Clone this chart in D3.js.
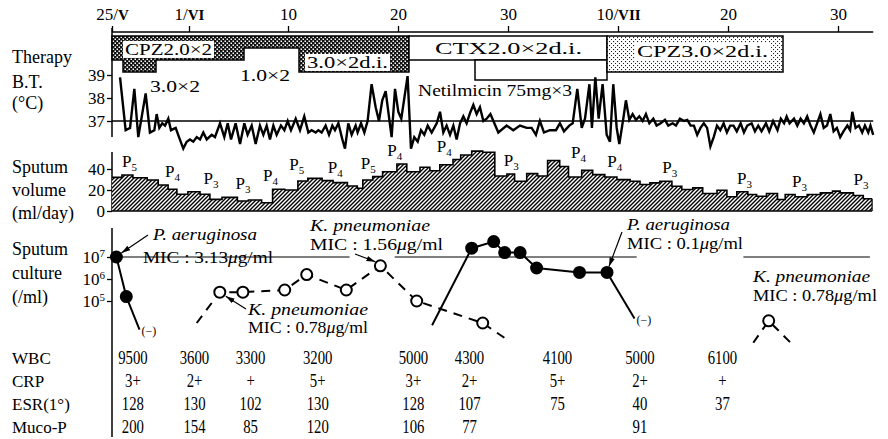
<!DOCTYPE html>
<html>
<head>
<meta charset="utf-8">
<script src="https://cdn.jsdelivr.net/npm/d3@7"></script>
<style>
  body { margin: 0; background: #fff; }
  svg { display: block; font-family: 'Liberation Serif', 'DejaVu Serif', serif; }
</style>
</head>
<body>
<div id="chart"></div>
<script>
// ---- data (day 0 = 25 May) ----
const dayTicks = [0, 7, 16, 26, 36, 46, 56, 66];
const dayTickLabels = [['25/', 'V'], ['1/', 'VI'], ['10', ''], ['20', ''], ['30', ''], ['10/', 'VII'], ['20', ''], ['30', '']];
const lastDay = 69.2;

// [start day, dose g]; last entry closes the regimen
const cpzFirst = [[0, 2], [1, 3], [4, 2], [12, 1], [17, 3], [27, 3]];
const ctxCourse = [27, 45, 2];
const netilmicin = [33, 45];
const cpzSecond = [45, 61, 3];

// body temperature [day, °C]
const bodyTemp = [
  [0.73, 38.9], [1.24, 36.6], [1.64, 36.7], [2.03, 38.4], [2.39, 36.3], [3.06, 38.2], [3.45, 36.5], [3.85, 36.6],
  [4.06, 37.3], [4.3, 36.7], [4.57, 36.9], [4.82, 36.8], [5.12, 37.1], [5.36, 36.6], [5.79, 36.7], [6.09, 36.3],
  [6.48, 35.8], [6.79, 36.1], [7.09, 36.2], [7.39, 36.1], [7.7, 36.3], [8.0, 36.2], [8.3, 36.5], [8.61, 36.2],
  [9.06, 36.4], [9.36, 36.3], [9.82, 36.9], [10.21, 36.3], [10.52, 36.9], [10.82, 36.2], [11.24, 36.9], [11.64, 36.0],
  [12.03, 36.9], [12.33, 36.4], [12.7, 36.8], [13.06, 36.0], [13.45, 36.8], [13.76, 36.4], [14.06, 36.8], [14.36, 36.2],
  [14.67, 36.8], [14.97, 36.4], [15.36, 36.8], [15.67, 36.6], [15.97, 37.0], [16.27, 36.6], [16.7, 37.1], [17.09, 36.6],
  [17.48, 37.2], [17.85, 36.5], [18.15, 36.6], [18.52, 36.5], [18.76, 36.6], [19.06, 36.5], [19.42, 36.8], [19.73, 36.4],
  [20.03, 36.8], [20.27, 36.6], [20.58, 36.9], [20.94, 36.2], [21.18, 35.8], [21.48, 36.9], [21.79, 36.4], [22.15, 36.8],
  [22.33, 36.5], [22.64, 36.9], [22.94, 36.5], [23.24, 37.0], [23.6, 38.6], [23.97, 37.6], [24.27, 37.0], [24.57, 37.9],
  [24.88, 38.3], [25.12, 37.4], [25.42, 36.3], [25.73, 38.4], [26.03, 37.4], [26.3, 37.1], [26.87, 38.95], [27.18, 35.8],
  [27.48, 36.3], [27.79, 36.1], [28.09, 36.6], [28.39, 36.4], [28.7, 36.8], [29.06, 36.5], [29.52, 36.9], [29.82, 37.4],
  [30.12, 36.5], [30.42, 36.8], [30.73, 36.4], [31.03, 36.8], [31.33, 36.2], [31.64, 36.9], [31.94, 37.2], [32.24, 36.9],
  [32.55, 37.35], [32.85, 37.7], [33.15, 37.3], [33.45, 37.6], [33.76, 37.0], [34.06, 37.1], [34.4, 37.3], [35.12, 36.5],
  [35.88, 36.8], [36.48, 36.6], [37.09, 36.8], [37.7, 36.7], [38.15, 36.7], [38.54, 36.4], [38.9, 37.0], [39.27, 36.5],
  [39.8, 36.6], [40.36, 36.6], [40.72, 36.9], [41.09, 36.55], [41.57, 36.8], [41.88, 36.9], [42.3, 38.4], [42.7, 36.7],
  [43.0, 37.1], [43.4, 38.6], [43.63, 36.7], [43.94, 38.9], [44.24, 37.1], [44.6, 38.6], [44.97, 36.4], [45.27, 36.1],
  [45.57, 38.6], [45.88, 36.7], [46.12, 36.0], [46.48, 37.1], [46.72, 37.9], [47.03, 37.05], [47.33, 37.3], [47.63, 37.05],
  [47.94, 37.2], [48.24, 37.0], [48.54, 37.3], [48.85, 36.9], [49.21, 37.1], [49.51, 36.8], [49.88, 36.9], [50.27, 37.05],
  [50.57, 36.8], [50.97, 36.9], [51.27, 36.8], [51.63, 37.1], [52.0, 37.0], [52.3, 37.05], [52.6, 36.8], [52.9, 36.8],
  [53.2, 36.4], [53.5, 36.7], [53.8, 36.9], [54.1, 36.7], [54.4, 35.9], [54.7, 36.3], [55.0, 36.8], [55.3, 36.6],
  [55.6, 36.9], [55.9, 36.5], [56.2, 36.8], [56.5, 36.8], [56.8, 36.55], [57.15, 36.9], [57.45, 36.5], [57.75, 36.8],
  [58.15, 36.9], [58.45, 36.55], [58.75, 36.8], [59.05, 36.55], [59.45, 36.9], [59.75, 36.55], [60.1, 37.0], [60.5, 36.6],
  [60.8, 37.1], [61.1, 36.9], [61.33, 37.2], [61.6, 36.9], [62.0, 37.1], [62.3, 36.8], [62.6, 37.1], [62.9, 36.9],
  [63.2, 37.2], [63.5, 36.8], [63.8, 36.5], [64.1, 36.9], [64.4, 37.3], [64.7, 36.7], [65.0, 36.8], [65.3, 37.3],
  [65.6, 36.55], [65.9, 36.7], [66.2, 36.3], [66.5, 36.55], [66.85, 36.8], [67.1, 36.6], [67.3, 37.4], [67.6, 36.7],
  [67.9, 36.8], [68.2, 36.5], [68.45, 36.8], [68.75, 36.5], [68.95, 36.8], [69.2, 36.4]
];

// sputum volume steps [start day, ml/day]
const sputumSteps = [
  [0, 32], [0.9, 34.3], [1.9, 31.7], [3.2, 29.5], [4.2, 24.8], [5.1, 20.7], [5.9, 15.9], [6.9, 18.4], [8, 15.9],
  [8.9, 11.1], [10, 13], [11.4, 9.5], [12.4, 10.5], [13.6, 7.9], [14.6, 20.7], [15.7, 20], [16.9, 28.6], [17.8, 31.1],
  [19.1, 28.9], [20.1, 27], [21.4, 23.8], [22.3, 21.6], [22.8, 29.5], [23.7, 32.7], [24.6, 37.4], [25.9, 44.8],
  [26.8, 37.4], [28, 41.6], [28.9, 38.4], [29.8, 44], [31, 49], [31.7, 53.3], [32.7, 57], [33.7, 56], [34.8, 33.3],
  [35.9, 35.3], [36.6, 28.3], [37.7, 35.6], [38.7, 33.3], [39.6, 48.1], [40.7, 42.4], [41.5, 32.4], [42.7, 38.7],
  [43.7, 34.6], [44.8, 32.4], [45.9, 29.9], [47.1, 28.3], [48, 25.2], [48.9, 26.8], [49.8, 28.3], [50.9, 23.6],
  [51.8, 20.5], [52.8, 22], [53.7, 16.7], [55, 19.8], [55.9, 13.6], [56.8, 18.3], [57.8, 15.7], [58.6, 14.1],
  [59.5, 16.7], [60.5, 11], [61.2, 15.7], [62.1, 13.6], [63.2, 15.7], [64.4, 17.3], [65.5, 18.9], [66.2, 17.3],
  [67.4, 14.8], [68.3, 11.7], [69.1, 11.7]
];
// purulence grade [day, P grade]
const purulence = [[1.6, 5], [5.5, 4], [9, 3], [11.9, 3], [14.4, 4], [16.8, 5], [20.3, 4], [23.3, 5], [25.7, 4],
  [30.2, 4], [36.3, 3], [42.4, 4], [45.7, 4], [50.7, 3], [57.5, 3], [62.5, 3], [68.1, 3]];

// sputum culture [day, log10 cfu/ml, measured]
const paFirst = [[0.4, 7.0, 1], [1.3, 5.2, 1], [2.5, 3.7, 0]];
const klebFirst = [[7.7, 4.0, 0], [9.8, 5.4, 1], [11.9, 5.4, 1], [15.7, 5.5, 1], [17.7, 6.2, 1], [21.3, 5.5, 1],
  [24.4, 6.6, 1], [27.7, 5.0, 1], [33.7, 4.0, 1], [35.9, 3.25, 0]];
const paSecond = [[29.1, 3.9, 0], [32.7, 7.4, 1], [34.7, 7.7, 1], [35.7, 7.2, 1], [37.1, 7.2, 1], [38.6, 6.5, 1],
  [42.5, 6.3, 1], [45.0, 6.3, 1], [47.5, 4.2, 0]];
const klebSecond = [[58.3, 3.1, 0], [59.7, 4.1, 1], [61.9, 3.0, 0]];
const refSegments = [[0.4, 21.6], [25.7, 47.7], [57.4, 68.9]];

// laboratory table
const labDays = [1.9, 7.5, 12.6, 18.7, 27.4, 32.5, 40.5, 48, 55.5];
const rowNames = ['WBC', 'CRP', 'ESR(1°)', 'Muco-P'];
const wbc = ['9500', '3600', '3300', '3200', '5000', '4300', '4100', '5000', '6100'];
const crp = ['3+', '2+', '+', '5+', '3+', '2+', '5+', '2+', '+'];
const esr = ['128', '130', '102', '130', '128', '107', '75', '40', '37'];
const mucoP = ['200', '154', '85', '120', '106', '77', '', '91', ''];

// ---- scales ----
const x = d3.scaleLinear().domain([0, 66]).range([112, 838]);
const yDose = d3.scaleLinear().domain([0, 3]).range([36, 72]);
const yBT = d3.scaleLinear().domain([37, 39]).range([121, 75]);
const yVol = d3.scaleLinear().domain([0, 40]).range([211, 169]);
const yCul = d3.scaleLinear().domain([5, 7]).range([301, 257]);
const yRow = d3.scalePoint().domain(rowNames).range([358, 427]);

const svg = d3.select('#chart').append('svg')
  .attr('width', 888).attr('height', 439)
  .style('background', '#fff');

const defs = svg.append('defs');
const dense = defs.append('pattern').attr('id', 'dense')
  .attr('patternUnits', 'userSpaceOnUse').attr('width', 4).attr('height', 4);
dense.append('rect').attr('width', 4).attr('height', 4).attr('fill', '#111');
dense.append('rect').attr('x', 0.5).attr('y', 0.5).attr('width', 1.5).attr('height', 1.5).attr('fill', '#fff');
dense.append('rect').attr('x', 2.5).attr('y', 2.5).attr('width', 1.5).attr('height', 1.5).attr('fill', '#fff');

const dots = defs.append('pattern').attr('id', 'dots')
  .attr('patternUnits', 'userSpaceOnUse').attr('width', 4).attr('height', 4);
dots.append('rect').attr('width', 4).attr('height', 4).attr('fill', '#fff');
dots.append('rect').attr('x', 1).attr('y', 1).attr('width', 1.1).attr('height', 1.1).attr('fill', '#222');
dots.append('rect').attr('x', 3).attr('y', 3).attr('width', 1.1).attr('height', 1.1).attr('fill', '#222');

const hatch = defs.append('pattern').attr('id', 'hatch')
  .attr('patternUnits', 'userSpaceOnUse').attr('width', 4).attr('height', 4);
hatch.append('rect').attr('width', 4).attr('height', 4).attr('fill', '#fff');
hatch.append('path').attr('d', 'M-1,1 l2,-2 M0,4 l4,-4 M3,5 l2,-2')
  .attr('stroke', '#000').attr('stroke-width', 1.4);

defs.append('marker').attr('id', 'arrow')
  .attr('viewBox', '0 0 10 6').attr('refX', 10).attr('refY', 3)
  .attr('markerWidth', 9).attr('markerHeight', 6).attr('markerUnits', 'userSpaceOnUse')
  .attr('orient', 'auto')
  .append('path').attr('d', 'M0,0 L10,3 L0,6 z').attr('fill', '#000');

// text helper
function txt(g, s, px, py, o = {}) {
  const t = g.append('text')
    .attr('x', px).attr('y', py).attr('dy', '0.35em')
    .attr('font-size', o.size || 17)
    .attr('text-anchor', o.anchor || 'start')
    .attr('fill', '#000');
  if (o.italic) t.attr('font-style', 'italic');
  if (o.mic) {
    t.append('tspan').text('MIC : ' + o.mic);
    t.append('tspan').attr('font-style', 'italic').text('μ');
    t.append('tspan').text('g/ml');
  } else {
    t.text(s);
  }
  if (o.len) t.attr('textLength', o.len).attr('lengthAdjust', 'spacingAndGlyphs');
  if (o.bg) {
    const b = t.node().getBBox();
    g.insert('rect', () => t.node())
      .attr('x', b.x - 2).attr('y', b.y + 1).attr('width', b.width + 4).attr('height', b.height - 2)
      .attr('fill', '#fff');
  }
  return t;
}

const line = (px1, py1, px2, py2, w = 1.3) => svg.append('line')
  .attr('x1', px1).attr('y1', py1).attr('x2', px2).attr('y2', py2)
  .attr('stroke', '#000').attr('stroke-width', w);

const axisText = g => g.selectAll('.tick text')
  .attr('font-size', 17).attr('font-family', "'Liberation Serif', serif").attr('fill', '#000');

// ---- top date axis ----
const topAxis = svg.append('g').attr('transform', 'translate(0,32)')
  .call(d3.axisTop(x).tickValues(dayTicks).tickSize(6).tickFormat(''))
  .call(g => g.select('.domain').remove())
  .call(g => g.selectAll('.tick line').attr('stroke-width', 1.3));
topAxis.selectAll('.tick').each(function (d, i) {
  const t = d3.select(this).append('text')
    .attr('y', -12).attr('fill', '#000').attr('font-size', 17)
    .attr('text-anchor', 'middle').attr('font-family', "'Liberation Serif', serif");
  t.append('tspan').text(dayTickLabels[i][0]);
  if (dayTickLabels[i][1]) t.append('tspan').attr('font-weight', 'bold').attr('font-size', 15).text(dayTickLabels[i][1]);
});
line(x(0), 32, x(lastDay), 32, 1.5);

// left axis lines
line(x(0), 28, x(0), 137, 1.5);
line(x(0), 152, x(0), yVol(0), 1.5);
line(x(0), 228, x(0), 437, 1.5);

// ---- therapy ----
const therapy = svg.append('g');
therapy.append('path')
  .attr('d', d3.area().curve(d3.curveStepAfter)
    .x(d => x(d[0])).y0(yDose(0)).y1(d => yDose(d[1]))(cpzFirst))
  .attr('fill', 'url(#dense)').attr('stroke', '#000').attr('stroke-width', 1.5);
therapy.append('rect')
  .attr('x', x(ctxCourse[0])).attr('y', yDose(0))
  .attr('width', x(ctxCourse[1]) - x(ctxCourse[0])).attr('height', yDose(ctxCourse[2]) - yDose(0))
  .attr('fill', '#fff').attr('stroke', '#000').attr('stroke-width', 1.5);
therapy.append('rect')
  .attr('x', x(netilmicin[0])).attr('y', yDose(ctxCourse[2]))
  .attr('width', x(netilmicin[1]) - x(netilmicin[0])).attr('height', 20)
  .attr('fill', '#fff').attr('stroke', '#000').attr('stroke-width', 1.5);
therapy.append('rect')
  .attr('x', x(cpzSecond[0])).attr('y', yDose(0))
  .attr('width', x(cpzSecond[1]) - x(cpzSecond[0])).attr('height', yDose(cpzSecond[2]) - yDose(0))
  .attr('fill', 'url(#dots)').attr('stroke', '#000').attr('stroke-width', 1.5);

txt(therapy, 'CPZ2.0×2', 125, 49, { len: 87, bg: true });
txt(therapy, '3.0×2d.i.', 307, 62, { len: 81, bg: true });
txt(therapy, '3.0×2', 150, 86, { len: 50 });
txt(therapy, '1.0×2', 240, 75, { len: 50 });
txt(therapy, 'CTX2.0×2d.i.', 435, 48, { len: 147 });
txt(therapy, 'CPZ3.0×2d.i.', 637, 51, { len: 131, bg: true });
txt(therapy, 'Netilmicin 75mg×3', 418, 90, { len: 154 });

// ---- body temperature ----
const bt = svg.append('g');
bt.append('g').attr('transform', `translate(${x(0)},0)`)
  .call(d3.axisLeft(yBT).tickValues([37, 38, 39]).tickFormat(d3.format('d')).tickSize(5).tickPadding(2))
  .call(g => g.select('.domain').remove())
  .call(g => g.selectAll('.tick line').attr('stroke-width', 1.3))
  .call(axisText);
line(x(0), yBT(37), x(lastDay), yBT(37), 1.4);
bt.append('path')
  .datum(bodyTemp)
  .attr('d', d3.line().x(d => x(d[0])).y(d => yBT(d[1])))
  .attr('fill', 'none').attr('stroke', '#000').attr('stroke-width', 2.4).attr('stroke-linejoin', 'miter');

// ---- sputum volume ----
const vol = svg.append('g');
vol.append('g').attr('transform', `translate(${x(0)},0)`)
  .call(d3.axisLeft(yVol).tickValues([0, 20, 40]).tickFormat(d3.format('d')).tickSize(5).tickPadding(2))
  .call(g => g.select('.domain').remove())
  .call(g => g.selectAll('.tick line').attr('stroke-width', 1.3))
  .call(axisText);
vol.append('path')
  .attr('d', d3.area().curve(d3.curveStepAfter)
    .x(d => x(d[0])).y0(yVol(0)).y1(d => yVol(d[1]))(sputumSteps))
  .attr('fill', 'url(#hatch)').attr('stroke', 'none');
vol.append('path')
  .attr('d', d3.line().curve(d3.curveStepAfter).x(d => x(d[0])).y(d => yVol(d[1]))(sputumSteps))
  .attr('fill', 'none').attr('stroke', '#000').attr('stroke-width', 1.6);
line(x(0), yVol(0), x(69.1), yVol(0), 1.5);
line(x(69.1), yVol(11.7), x(69.1), yVol(0), 1.2);

purulence.forEach(([d, p]) => {
  const near = sputumSteps.filter((s, i) => {
    const end = i < sputumSteps.length - 1 ? sputumSteps[i + 1][0] : s[0];
    return end > d - 1.2 && s[0] < d + 1.2;
  });
  const top = d3.max(near, s => s[1]);
  const t = vol.append('text').attr('x', x(d)).attr('y', yVol(top) - 8)
    .attr('text-anchor', 'middle').attr('font-size', 17).attr('fill', '#000');
  t.append('tspan').text('P');
  t.append('tspan').attr('font-size', 11).attr('dy', 4).text(p);
});

// ---- sputum culture ----
const cul = svg.append('g');
const culAxis = cul.append('g').attr('transform', `translate(${x(0)},0)`)
  .call(d3.axisLeft(yCul).tickValues([5, 6, 7]).tickSize(5).tickFormat(''))
  .call(g => g.select('.domain').remove())
  .call(g => g.selectAll('.tick line').attr('stroke-width', 1.3));
culAxis.selectAll('.tick').append('text')
  .attr('x', -7).attr('dy', '0.35em').attr('text-anchor', 'end')
  .attr('fill', '#000').attr('font-size', 17).attr('font-family', "'Liberation Serif', serif")
  .call(t => t.append('tspan').text('10'))
  .call(t => t.append('tspan').attr('font-size', 11).attr('dy', -6).text(d => d));

refSegments.forEach(([a, b]) => line(x(a), yCul(7), x(b), yCul(7), 1.2));

const culLine = d3.line().x(d => x(d[0])).y(d => yCul(d[1]));
function series(data, filled) {
  const g = cul.append('g');
  g.append('path').datum(data).attr('d', culLine)
    .attr('fill', 'none').attr('stroke', '#000').attr('stroke-width', 2)
    .attr('stroke-dasharray', filled ? null : '9,7');
  g.selectAll('circle').data(data.filter(d => d[2])).join('circle')
    .attr('cx', d => x(d[0])).attr('cy', d => yCul(d[1])).attr('r', 5.5)
    .attr('fill', filled ? '#000' : '#fff').attr('stroke', '#000').attr('stroke-width', 2);
}
series(klebFirst, false);
series(klebSecond, false);
series(paFirst, true);
series(paSecond, true);

[paFirst, paSecond].forEach(s => {
  const e = s[s.length - 1];
  txt(cul, '(−)', x(e[0]) + 2, yCul(e[1]) + 1, { size: 12 });
});

// annotations
const arrow = (x1, y1, x2, y2) => cul.append('line')
  .attr('x1', x1).attr('y1', y1).attr('x2', x2).attr('y2', y2)
  .attr('stroke', '#000').attr('stroke-width', 1.2).attr('marker-end', 'url(#arrow)');

txt(cul, 'P. aeruginosa', 153, 234, { italic: true, len: 104, size: 16 });
txt(cul, '', 143, yCul(7), { mic: '3.13', len: 130, bg: true, size: 16 });
arrow(148, 235, x(paFirst[0][0]) + 5, yCul(7) - 4);

txt(cul, 'K. pneumoniae', 310, 225, { italic: true, len: 120, size: 16 });
txt(cul, '', 310, 244, { mic: '1.56', len: 133, size: 16 });
arrow(355, 254, x(24.4) - 5, yCul(6.6) - 4);

txt(cul, 'K. pneumoniae', 248, 309, { italic: true, len: 120, bg: true, size: 16 });
txt(cul, '', 248, 327, { mic: '0.78', len: 120, size: 16 });
arrow(246, 309, x(9.8) + 6, yCul(5.4) + 4);

txt(cul, 'P. aeruginosa', 627, 224, { italic: true, len: 103, size: 16 });
txt(cul, '', 627, 243, { mic: '0.1', len: 116, size: 16 });
arrow(622, 232, x(45.0) + 2, yCul(6.3) - 6);

txt(cul, 'K. pneumoniae', 753, 276, { italic: true, len: 117, size: 16 });
txt(cul, '', 753, 295, { mic: '0.78', len: 124, size: 16 });

// ---- left labels ----
const labels = svg.append('g');
[['Therapy', 57], ['B.T.', 82], ['(°C)', 103], ['Sputum', 167], ['volume', 190], ['(ml/day)', 213],
 ['Sputum', 249], ['culture', 273], ['(/ml)', 297]]
  .forEach(([s, py]) => txt(labels, s, 12, py, { size: 18 }));

// ---- lab table ----
const table = svg.append('g');
rowNames.forEach(r => txt(table, r, 12, yRow(r), { size: 17 }));
[wbc, crp, esr, mucoP].forEach((vals, ri) => {
  table.selectAll(null).data(vals).join('text')
    .attr('x', (d, i) => x(labDays[i])).attr('y', yRow(rowNames[ri])).attr('dy', '0.35em')
    .attr('text-anchor', 'middle').attr('font-size', 18).attr('fill', '#000')
    .attr('transform', (d, i) => `translate(${x(labDays[i])},0) scale(0.82,1) translate(${-x(labDays[i])},0)`)
    .text(d => d);
});
</script>
</body>
</html>
